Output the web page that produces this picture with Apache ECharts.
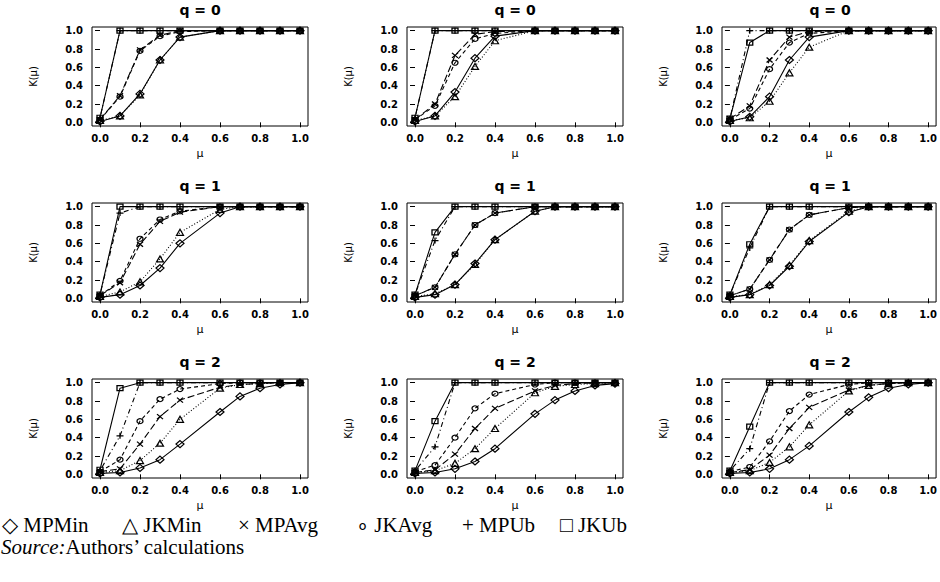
<!DOCTYPE html>
<html><head><meta charset="utf-8">
<script src="https://cdn.jsdelivr.net/npm/echarts@6/dist/echarts.min.js"></script>
<style>html,body{margin:0;padding:0;background:#fff;} #c{width:940px;height:582px;}</style>
</head><body><div id="c"></div>
<script>
// x values (mu) shared by every panel
const mu = [0, 0.1, 0.2, 0.3, 0.4, 0.6, 0.7, 0.8, 0.9, 1.0];
const panelTitles = ['q = 0','q = 0','q = 0','q = 1','q = 1','q = 1','q = 2','q = 2','q = 2'];
const tickValues = [0, 0.2, 0.4, 0.6, 0.8, 1.0];
const legendNames = ['MPMin','JKMin','MPAvg','JKAvg','MPUb','JKUb'];
const legendGlyphs = ['\u25C7','\u25B3','\u00D7','\u2218','+','\u25A1'];

// one row per panel (row-major: q=0 col1..3, q=1 col1..3, q=2 col1..3)
const MPMin = [
  [0.01,0.07,0.31,0.68,0.93,1,1,1,1,1],
  [0.01,0.07,0.33,0.70,0.94,1,1,1,1,1],
  [0.01,0.06,0.28,0.68,0.93,1,1,1,1,1],
  [0.01,0.04,0.14,0.33,0.60,0.93,1,1,1,1],
  [0.01,0.04,0.15,0.38,0.64,0.95,1,1,1,1],
  [0.01,0.04,0.14,0.35,0.62,0.94,1,1,1,1],
  [0.01,0.02,0.07,0.16,0.33,0.68,0.85,0.94,0.98,1],
  [0.01,0.02,0.06,0.14,0.28,0.66,0.81,0.91,0.97,0.99],
  [0.01,0.02,0.06,0.16,0.31,0.68,0.84,0.94,0.98,1]
];
const JKMin = [
  [0.02,0.07,0.30,0.68,0.93,1,1,1,1,1],
  [0.02,0.07,0.28,0.61,0.89,1,1,1,1,1],
  [0.02,0.05,0.23,0.54,0.82,1,1,1,1,1],
  [0.02,0.07,0.18,0.43,0.72,0.97,1,1,1,1],
  [0.02,0.05,0.15,0.37,0.64,0.95,1,1,1,1],
  [0.02,0.04,0.15,0.36,0.63,0.95,1,1,1,1],
  [0.02,0.04,0.15,0.34,0.60,0.94,0.98,0.99,1,1],
  [0.02,0.04,0.12,0.28,0.50,0.89,0.96,0.98,0.99,1],
  [0.02,0.04,0.13,0.30,0.54,0.91,0.97,0.99,1,1]
];
const MPAvg = [
  [0.03,0.29,0.79,0.95,1,1,1,1,1,1],
  [0.03,0.20,0.73,0.96,0.99,1,1,1,1,1],
  [0.04,0.18,0.68,0.93,0.99,1,1,1,1,1],
  [0.03,0.17,0.59,0.84,0.94,1,1,1,1,1],
  [0.03,0.12,0.48,0.80,0.93,1,1,1,1,1],
  [0.03,0.10,0.42,0.75,0.91,0.99,1,1,1,1],
  [0.03,0.06,0.33,0.63,0.81,0.95,0.98,0.99,1,1],
  [0.02,0.05,0.22,0.50,0.72,0.91,0.97,0.99,1,1],
  [0.02,0.05,0.21,0.50,0.73,0.92,0.97,0.99,1,1]
];
const JKAvg = [
  [0.03,0.28,0.78,0.94,0.99,1,1,1,1,1],
  [0.03,0.18,0.65,0.91,0.97,1,1,1,1,1],
  [0.03,0.15,0.58,0.87,0.97,1,1,1,1,1],
  [0.03,0.19,0.65,0.86,0.95,1,1,1,1,1],
  [0.03,0.12,0.48,0.80,0.93,1,1,1,1,1],
  [0.03,0.10,0.42,0.75,0.91,0.99,1,1,1,1],
  [0.03,0.16,0.58,0.82,0.93,0.99,1,1,1,1],
  [0.03,0.10,0.40,0.72,0.88,0.98,1,1,1,1],
  [0.03,0.08,0.36,0.69,0.87,0.98,1,1,1,1]
];
const MPUb = [
  [0.05,1,1,1,1,1,1,1,1,1],
  [0.05,1,1,1,1,1,1,1,1,1],
  [0.04,1,1,1,1,1,1,1,1,1],
  [0.04,0.93,1,1,1,1,1,1,1,1],
  [0.04,0.63,1,1,1,1,1,1,1,1],
  [0.04,0.55,1,1,1,1,1,1,1,1],
  [0.04,0.42,1,1,1,1,1,1,1,1],
  [0.04,0.30,1,1,1,1,1,1,1,1],
  [0.04,0.28,1,1,1,1,1,1,1,1]
];
const JKUb = [
  [0.05,1,1,1,1,1,1,1,1,1],
  [0.05,1,1,1,1,1,1,1,1,1],
  [0.04,0.87,1,1,1,1,1,1,1,1],
  [0.04,1,1,1,1,1,1,1,1,1],
  [0.04,0.72,1,1,1,1,1,1,1,1],
  [0.04,0.59,1,1,1,1,1,1,1,1],
  [0.05,0.94,1,1,1,1,1,1,1,1],
  [0.04,0.58,1,1,1,1,1,1,1,1],
  [0.04,0.52,1,1,1,1,1,1,1,1]
];

const seriesDefs = [
  {name:'MPMin', data:MPMin, symbol:'diamond', size:[8,7], dash:'solid'},
  {name:'JKMin', data:JKMin, symbol:'triangle', size:[7,6], dash:[1,2]},
  {name:'MPAvg', data:MPAvg, symbol:'path://M0,0L10,10M10,0L0,10', size:[6,5], dash:[7,3]},
  {name:'JKAvg', data:JKAvg, symbol:'circle', size:[6,5], dash:[4,3]},
  {name:'MPUb',  data:MPUb,  symbol:'path://M5,0L5,10M0,5L10,5', size:[7,6], dash:[1,3,5,3]},
  {name:'JKUb',  data:JKUb,  symbol:'rect', size:[6,5], dash:'solid'}
];

const colX = [0, 315, 630];
const rowY = [0, 176, 352];
const BOX_L = 92, BOX_T = 27, BOX_W = 216, BOX_H = 99;
const tickFont = {fontFamily:'DejaVu Sans', fontWeight:'bold', fontSize:10, color:'#000'};

const grids = [], xAxes = [], yAxes = [], series = [], graphics = [];
for (let p = 0; p < 9; p++) {
  const r = Math.floor(p / 3), c = p % 3;
  grids.push({left: colX[c] + BOX_L, top: rowY[r] + BOX_T, width: BOX_W, height: BOX_H,
    show: true, borderColor: '#000', borderWidth: 1, backgroundColor: 'transparent', containLabel: false});
  xAxes.push({type:'value', gridIndex:p, min:-0.04, max:1.04,
    axisLine:{show:false}, splitLine:{show:false},
    axisTick:{show:true, inside:false, length:5, customValues:tickValues, lineStyle:{color:'#000', width:1}},
    axisLabel:Object.assign({customValues:tickValues, margin:7, formatter:v=>v.toFixed(1)}, tickFont),
    name:'\u03BC', nameLocation:'middle', nameGap:22,
    nameTextStyle:{fontFamily:'DejaVu Sans', fontSize:11, color:'#000'}});
  yAxes.push({type:'value', gridIndex:p, min:-0.04, max:1.04,
    axisLine:{show:false}, splitLine:{show:false},
    axisTick:{show:true, inside:false, length:5, customValues:tickValues, lineStyle:{color:'#000', width:1}},
    axisLabel:Object.assign({customValues:tickValues, margin:9, formatter:v=>v.toFixed(1)}, tickFont),
    name:'K(\u03BC)', nameLocation:'middle', nameGap:54, nameRotate:90,
    nameTextStyle:{fontFamily:'DejaVu Sans', fontSize:10, color:'#000'}});
  graphics.push({type:'text', x: colX[c] + BOX_L + BOX_W/2, y: rowY[r] + 3,
    style:{text: panelTitles[p], textAlign:'center', fontFamily:'DejaVu Sans', fontWeight:'bold', fontSize:14, fill:'#000'}});
  seriesDefs.forEach(d => {
    series.push({type:'line', name:d.name, xAxisIndex:p, yAxisIndex:p,
      data: mu.map((m, i) => [m, d.data[p][i]]),
      symbol:d.symbol, symbolSize:d.size, showSymbol:true, showAllSymbol:true,
      lineStyle:{color:'#000', width:1.1, type:d.dash},
      itemStyle:{color:'none', borderColor:'#000', borderWidth:1.2},
      emphasis:{disabled:true}, animation:false, silent:true});
  });
}

// legend line (text below the figure)
const legendX = [2, 122, 238, 356, 462, 560];
legendNames.forEach((n, i) => {
  graphics.push({type:'text', left: legendX[i], top: 514,
    style:{text: legendGlyphs[i] + ' ' + n, fontFamily:'Liberation Serif', fontSize:21, fill:'#000'}});
});
graphics.push({type:'text', left: 1, top: 536,
  style:{text:'{i|Source:}{n|Authors\u2019 calculations}',
    rich:{i:{fontFamily:'Liberation Serif', fontStyle:'italic', fontSize:21, fill:'#000'},
          n:{fontFamily:'Liberation Serif', fontSize:21, fill:'#000'}}}});

const chart = echarts.init(document.getElementById('c'), null, {renderer:'svg'});
chart.setOption({
  animation:false, backgroundColor:'#fff',
  grid:grids, xAxis:xAxes, yAxis:yAxes, series:series, graphic:graphics
});
</script></body></html>
